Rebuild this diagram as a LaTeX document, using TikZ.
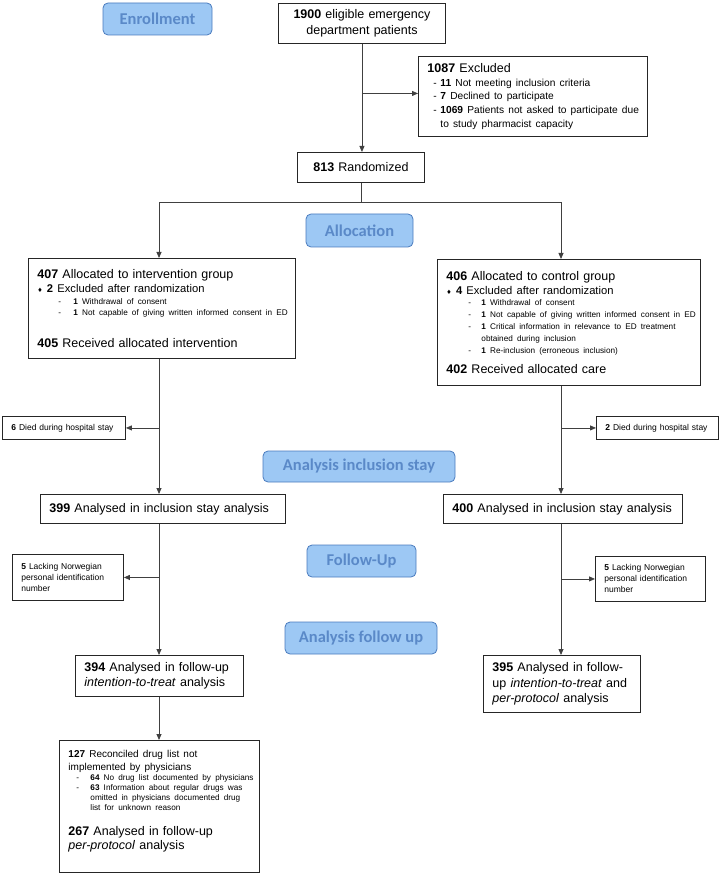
\documentclass[tikz,border=0pt]{standalone}
\usepackage{fontspec}
\setmainfont{Liberation Sans}
\newfontfamily\labfont{Carlito}
\newfontfamily\symfont{DejaVu Sans}
\usetikzlibrary{arrows.meta}

\definecolor{labfill}{HTML}{9DC8F4}
\definecolor{labdraw}{HTML}{4A7BBE}
\definecolor{labtext}{HTML}{5A89C8}

\newcommand{\mainsz}{\fontsize{12.5}{15.5}\selectfont}
\newcommand{\midsz}{\fontsize{11.2}{14}\selectfont}
\newcommand{\exsz}{\fontsize{10.2}{13.6}\selectfont}
\newcommand{\itsz}{\fontsize{8.2}{11.8}\selectfont}
\newcommand{\notesz}{\fontsize{8.5}{11}\selectfont}
\newcommand{\diam}{{\symfont\fontsize{6}{6}\selectfont ♦}}
\newcommand{\flowitem}[3]{\hspace*{#1}\makebox[#2][l]{-}\mbox{#3}\par}

\begin{document}
\begin{tikzpicture}[x=1pt,y=-1pt,
    box/.style={draw=black!85,line width=0.9pt,anchor=north west,align=left,
                inner xsep=9pt,inner ysep=3pt,font=\mainsz},
    note/.style={box,font=\notesz},
    lab/.style={draw=labdraw,fill=labfill,rounded corners=5pt,line width=0.8pt,
                text=labtext,font=\labfont\bfseries\fontsize{16.5}{18}\selectfont},
    link/.style={draw=black!75,line width=0.8pt},
    conn/.style={link,-{Triangle[length=6pt,width=5pt]}}]
    \useasboundingbox (0,0) rectangle (720,874);

    % phase labels
    \node[lab,minimum width=109pt,minimum height=32pt] (lenrol) at (157.5,19) {Enrollment};
    \node[lab,minimum width=107pt,minimum height=33pt] (lalloc) at (359.5,230.5) {Allocation};
    \node[lab,minimum width=192pt,minimum height=31pt] (lstay) at (359,466.5) {Analysis inclusion stay};
    \node[lab,minimum width=109pt,minimum height=32pt] (lfollow) at (361.5,561) {Follow-Up};
    \node[lab,minimum width=152pt,minimum height=32pt] (lanfol) at (361,638) {Analysis follow up};

    % enrolment
    \node[box,align=center,text width=149pt,minimum height=40pt] (elig) at (278,3)
        {\textbf{1900} eligible emergency\\department patients};
    \node[box,text width=211pt,minimum height=80pt] (excl) at (418,56) {%
        \textbf{1087} Excluded\par
        {\exsz
        \flowitem{6pt}{7pt}{\textbf{11} Not meeting inclusion criteria}
        \flowitem{6pt}{7pt}{\textbf{7} Declined to participate}
        \flowitem{6pt}{7pt}{\textbf{1069} Patients not asked to participate due}
        \hspace*{13pt}to study pharmacist capacity\par}};
    \node[box,align=center,text width=109pt,minimum height=30pt] (rand) at (297,152)
        {\textbf{813} Randomized};

    % allocation
    \node[box,text width=249pt,minimum height=100pt] (intv) at (28,258) {%
        \textbf{407} Allocated to intervention group\par
        {\midsz\diam\ \textbf{2} Excluded after randomization\par}
        {\itsz
        \flowitem{21pt}{15pt}{\textbf{1} Withdrawal of consent}
        \flowitem{21pt}{15pt}{\textbf{1} Not capable of giving written informed consent in ED}}
        \vspace{16pt}
        \textbf{405} Received allocated intervention};
    \node[box,text width=245pt,minimum height=126pt] (ctrl) at (437,259) {%
        \textbf{406} Allocated to control group\par
        {\midsz\diam\ \textbf{4} Excluded after randomization\par}
        {\itsz
        \flowitem{22pt}{13pt}{\textbf{1} Withdrawal of consent}
        \flowitem{22pt}{13pt}{\textbf{1} Not capable of giving written informed consent in ED}
        \flowitem{22pt}{13pt}{\textbf{1} Critical information in relevance to ED treatment}
        \hspace*{35pt}obtained during inclusion\par
        \flowitem{22pt}{13pt}{\textbf{1} Re-inclusion (erroneous inclusion)}}
        \vspace{5pt}
        \textbf{402} Received allocated care};

    % inclusion stay
    \node[note,text width=105pt,minimum height=23pt] (died1) at (2,416)
        {\textbf{6} Died during hospital stay};
    \node[note,text width=104pt,minimum height=23pt] (died2) at (596,416)
        {\textbf{2} Died during hospital stay};
    \node[box,text width=227pt,minimum height=29pt] (stay1) at (40,494)
        {\textbf{399} Analysed in inclusion stay analysis};
    \node[box,text width=221pt,minimum height=29pt] (stay2) at (443,494)
        {\textbf{400} Analysed in inclusion stay analysis};

    % follow up
    \node[note,text width=93pt,minimum height=46pt] (lack1) at (12,554)
        {\textbf{5} Lacking Norwegian\\personal identification\\number};
    \node[note,text width=92pt,minimum height=45pt] (lack2) at (595,556)
        {\textbf{5} Lacking Norwegian\\personal identification\\number};
    \node[box,text width=150pt,minimum height=41pt] (itt1) at (75,655)
        {\textbf{394} Analysed in follow-up\\\textit{intention-to-treat} analysis};
    \node[box,text width=139pt,minimum height=57pt] (itt2) at (483,655)
        {\textbf{395} Analysed in follow-\\up \textit{intention-to-treat} and\\\textit{per-protocol} analysis};
    \node[box,text width=182pt,minimum height=132pt] (pp) at (59,740) {%
        {\fontsize{10}{13}\selectfont\textbf{127} Reconciled drug list not\\implemented by physicians\par}
        {\fontsize{8.2}{10}\selectfont
        \flowitem{8pt}{14pt}{\textbf{64} No drug list documented by physicians}
        \flowitem{8pt}{14pt}{\textbf{63} Information about regular drugs was}
        \hspace*{22pt}omitted in physicians documented drug\par
        \hspace*{22pt}list for unknown reason\par}
        \vspace{12pt}
        {\fontsize{12.5}{13.5}\selectfont\textbf{267} Analysed in follow-up\\\textit{per-protocol} analysis\par}
        {\fontsize{1}{1}\selectfont\rule{0pt}{10pt}\par}};

    % connectors
    \coordinate (colL) at (159,0);
    \coordinate (colR) at (561,0);
    \coordinate (j1) at ([yshift=3pt]excl.west);
    \coordinate (split) at ([yshift=-20pt]rand.south);
    \draw[conn] (elig.south) -- (elig.south |- rand.north);
    \draw[conn] (elig.south |- j1) -- (j1);
    \draw[link] (rand.south) -- (split);
    \draw[conn] (split) -| (intv.north -| colL);
    \draw[conn] (split) -| (ctrl.north -| colR);
    \draw[conn] (intv.south -| colL) -- (stay1.north -| colL);
    \draw[conn] (colL |- died1.east) -- (died1.east);
    \draw[conn] (ctrl.south -| colR) -- (stay2.north -| colR);
    \draw[conn] (colR |- died2.west) -- (died2.west);
    \draw[conn] (stay1.south -| colL) -- (itt1.north -| colL);
    \draw[conn] (colL |- lack1.east) -- (lack1.east);
    \draw[conn] (stay2.south -| colR) -- (itt2.north -| colR);
    \draw[conn] (colR |- lack2.west) -- (lack2.west);
    \draw[conn] (itt1.south -| colL) -- (pp.north -| colL);
\end{tikzpicture}
\end{document}
